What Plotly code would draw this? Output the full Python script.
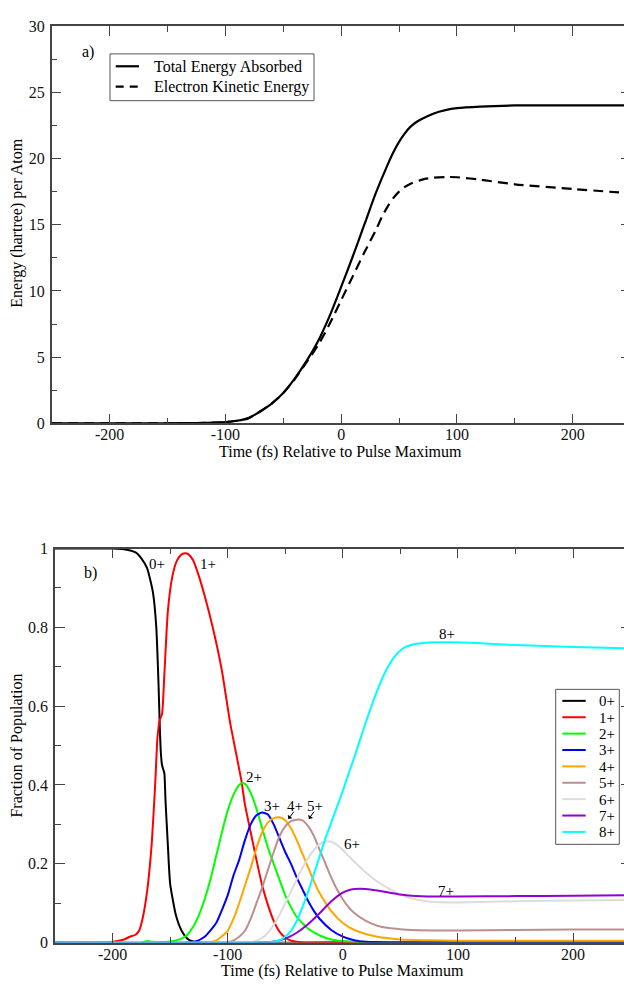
import plotly.graph_objects as go

FONT = "Liberation Serif, Times New Roman, serif"

# ---------------- panel a) data ----------------
t_total = [-250, -200, -150, -125, -100, -90, -80, -70, -60, -50, -40, -30, -20, -10, 0,
           10, 20, 30, 40, 45, 50, 55, 60, 65, 70, 75, 80, 90, 100, 120, 150, 200, 245]
e_total = [0, 0, 0.01, 0.03, 0.1, 0.2, 0.4, 0.9, 1.5, 2.3, 3.4, 4.7, 6.2, 8.1, 10.3,
           12.6, 15.0, 17.4, 19.5, 20.45, 21.25, 21.9, 22.4, 22.75, 23.0, 23.2, 23.4, 23.65,
           23.8, 23.92, 24.0, 24.0, 24.0]

t_kin = [-250, -200, -150, -125, -100, -90, -80, -70, -60, -50, -40, -30, -20, -10, 0,
         10, 20, 30, 35, 40, 45, 50, 55, 60, 70, 80, 91, 100, 120, 150, 200, 245]
e_kin = [0, 0, 0.01, 0.03, 0.1, 0.2, 0.4, 0.9, 1.5, 2.3, 3.35, 4.6, 5.9, 7.5, 9.3,
         11.1, 12.9, 14.6, 15.55, 16.35, 17.0, 17.5, 17.85, 18.1, 18.4, 18.55, 18.6, 18.58,
         18.4, 18.05, 17.7, 17.4]

# ---------------- panel b) data ----------------
t0 = [-250, -200, -190, -180, -175, -170, -165, -162, -160, -159, -158, -157, -156, -155,
      -154, -152, -150, -145, -140, -135, -130, -120, 0, 245]
p0 = [1.0, 1.0, 0.998, 0.99, 0.975, 0.95, 0.89, 0.8, 0.65, 0.55, 0.48, 0.45, 0.44, 0.43,
      0.36, 0.25, 0.15, 0.07, 0.03, 0.01, 0.003, 0.0, 0.0, 0.0]

t1 = [-250, -210, -200, -190, -185, -180, -177, -174, -170, -166, -163, -161, -159, -157,
      -155, -152, -148, -144, -140, -137, -134, -130, -125, -120, -113, -105, -98, -92,
      -88, -85, -80, -75, -70, -65, -60, -55, -50, -45, -40, -30, 245]
p1 = [0, 0, 0.002, 0.008, 0.015, 0.02, 0.03, 0.06, 0.13, 0.25, 0.4, 0.52, 0.565, 0.58,
      0.68, 0.84, 0.93, 0.97, 0.985, 0.988, 0.985, 0.97, 0.93, 0.88, 0.8, 0.69, 0.56, 0.47,
      0.41, 0.35, 0.28, 0.21, 0.145, 0.095, 0.055, 0.028, 0.013, 0.005, 0.002, 0, 0]

t2 = [-250, -175, -170, -165, -150, -140, -135, -130, -125, -120, -115, -110, -105, -100,
      -95, -90, -87, -84, -80, -75, -70, -65, -60, -55, -50, -45, -40, -30, -20, -10, 0,
      20, 50, 245]
p2 = [0, 0, 0.004, 0.002, 0.003, 0.01, 0.02, 0.04, 0.07, 0.11, 0.16, 0.22, 0.28, 0.335,
      0.375, 0.4, 0.405, 0.4, 0.38, 0.34, 0.29, 0.24, 0.2, 0.16, 0.12, 0.09, 0.065, 0.035,
      0.018, 0.008, 0.004, 0.001, 0, 0]

t3 = [-250, -135, -128, -120, -110, -100, -95, -90, -85, -80, -75, -70, -65, -60, -55,
      -50, -45, -40, -35, -30, -25, -20, -10, 0, 10, 20, 40, 60, 245]
p3 = [0, 0, 0.003, 0.015, 0.05, 0.12, 0.17, 0.21, 0.26, 0.3, 0.323, 0.33, 0.325, 0.3,
      0.265, 0.23, 0.2, 0.165, 0.135, 0.105, 0.08, 0.06, 0.032, 0.015, 0.006, 0.002,
      0.0005, 0, 0]

t4 = [-250, -120, -110, -100, -95, -90, -85, -80, -75, -70, -65, -60, -55, -50, -45, -40,
      -35, -30, -25, -20, -10, 0, 10, 20, 30, 40, 50, 75, 100, 150, 200, 245]
p4 = [0, 0, 0.005, 0.03, 0.06, 0.1, 0.145, 0.19, 0.24, 0.28, 0.305, 0.316, 0.318, 0.31,
      0.29, 0.26, 0.225, 0.19, 0.155, 0.125, 0.08, 0.05, 0.032, 0.022, 0.015, 0.011, 0.008,
      0.006, 0.005, 0.005, 0.005, 0.005]

t5 = [-250, -105, -97, -90, -85, -80, -75, -70, -65, -60, -55, -50, -45, -40, -35, -30,
      -25, -20, -15, -10, -5, 0, 5, 10, 20, 30, 40, 50, 60, 80, 100, 150, 200, 245]
p5 = [0, 0, 0.003, 0.015, 0.03, 0.06, 0.1, 0.14, 0.185, 0.23, 0.27, 0.295, 0.308, 0.312,
      0.31, 0.295, 0.27, 0.235, 0.2, 0.165, 0.135, 0.11, 0.09, 0.075, 0.055, 0.043, 0.037,
      0.034, 0.032, 0.031, 0.031, 0.032, 0.033, 0.033]

t6 = [-250, -85, -77, -70, -65, -60, -55, -50, -45, -40, -35, -30, -25, -20, -15, -10, -5,
      0, 5, 10, 20, 30, 40, 50, 60, 70, 80, 100, 120, 150, 200, 245]
p6 = [0, 0, 0.003, 0.012, 0.025, 0.045, 0.07, 0.1, 0.13, 0.16, 0.19, 0.215, 0.235, 0.25,
      0.257, 0.256, 0.248, 0.235, 0.22, 0.205, 0.178, 0.155, 0.137, 0.122, 0.112, 0.106,
      0.103, 0.102, 0.103, 0.105, 0.107, 0.108]

t7 = [-250, -70, -60, -50, -40, -30, -20, -10, 0, 5, 10, 15, 20, 30, 40, 50, 60, 80, 100,
      150, 200, 245]
p7 = [0, 0, 0.003, 0.01, 0.025, 0.047, 0.075, 0.105, 0.127, 0.133, 0.136, 0.137, 0.136,
      0.132, 0.127, 0.122, 0.119, 0.117, 0.117, 0.118, 0.119, 0.12]

t8 = [-250, -70, -60, -55, -50, -45, -40, -35, -30, -25, -20, -15, -10, -5, 0, 5, 10, 15,
      20, 25, 30, 35, 40, 45, 50, 55, 60, 70, 80, 95, 110, 130, 150, 200, 245]
p8 = [0, 0, 0.002, 0.006, 0.015, 0.03, 0.055, 0.09, 0.13, 0.175, 0.22, 0.265, 0.305, 0.345,
      0.385, 0.428, 0.47, 0.515, 0.559, 0.601, 0.64, 0.675, 0.704, 0.726, 0.741, 0.751,
      0.756, 0.76, 0.762, 0.762, 0.761, 0.758, 0.755, 0.75, 0.747]

energy_names = ["Total Energy Absorbed", "Electron Kinetic Energy"]
charge_names = ["0+", "1+", "2+", "3+", "4+", "5+", "6+", "7+", "8+"]
charge_colors = ["#000000", "#ff0000", "#00ff00", "#0000ff", "#ffa500",
                 "#bc8f8f", "#dcdcdc", "#9400d3", "#00ffff"]
charge_t = [t0, t1, t2, t3, t4, t5, t6, t7, t8]
charge_p = [p0, p1, p2, p3, p4, p5, p6, p7, p8]

# curve labels (text, time, fraction)
lab_text = ["0+", "1+", "2+", "3+", "4+", "5+", "6+", "7+", "8+"]
lab_t = [-161.4, -117.1, -77.1, -61.8, -41.5, -24.2, 8.0, 89.4, 90.5]
lab_p = [0.962, 0.962, 0.42, 0.346, 0.346, 0.346, 0.25, 0.131, 0.782]

x_tickvals = [-200, -100, 0, 100, 200]
x_ticktext = ["-200", "-100", "0", "100", "200"]

W, H = 624, 987
def px(x):
    return x / W
def py(y):
    return 1 - y / H

fig = go.Figure()

fig.add_trace(go.Scatter(x=t_total, y=e_total, mode="lines", name=energy_names[0],
                         line=dict(color="black", width=2.2, shape="spline", smoothing=0.8),
                         xaxis="x", yaxis="y", showlegend=False))
fig.add_trace(go.Scatter(x=t_kin, y=e_kin, mode="lines", name=energy_names[1],
                         line=dict(color="black", width=2.2, dash="10px,6px", shape="spline", smoothing=0.8),
                         xaxis="x", yaxis="y", showlegend=False))

for nm, col, tt, pp in zip(charge_names, charge_colors, charge_t, charge_p):
    fig.add_trace(go.Scatter(x=tt, y=pp, mode="lines", name=nm,
                             line=dict(color=col, width=2, shape="spline", smoothing=0.5),
                             xaxis="x2", yaxis="y2", showlegend=False))

# dummy traces for right-hand tick axes
fig.add_trace(go.Scatter(x=[None], y=[None], xaxis="x", yaxis="y3", showlegend=False, hoverinfo="skip"))
fig.add_trace(go.Scatter(x=[None], y=[None], xaxis="x2", yaxis="y4", showlegend=False, hoverinfo="skip"))

AX = "#444444"
tickfont = dict(family=FONT, size=16, color="#111111")

def xax(domain, anchor):
    return dict(domain=domain, anchor=anchor, range=[-250, 244.3],
                tickmode="array", tickvals=x_tickvals, ticktext=x_ticktext,
                ticks="inside", ticklen=10, tickwidth=1, tickcolor=AX,
                minor=dict(dtick=50, tick0=0, ticks="inside", ticklen=6, tickwidth=1, tickcolor=AX),
                showline=True, linecolor=AX, linewidth=1.5, mirror="ticks",
                showgrid=False, zeroline=False, tickfont=tickfont, ticklabelstandoff=-4)

def yax(domain, anchor, rng, dt, mdt):
    return dict(domain=domain, anchor=anchor, range=rng, dtick=dt, tick0=0,
                ticks="inside", ticklen=10, tickwidth=1, tickcolor=AX,
                minor=dict(dtick=mdt, tick0=0, ticks="inside", ticklen=6, tickwidth=1, tickcolor=AX),
                showline=True, linecolor=AX, linewidth=1.5, mirror=False,
                showgrid=False, zeroline=False, tickfont=tickfont, ticklabelstandoff=2)

def rax(over, anchor, rng, dt):
    return dict(overlaying=over, anchor=anchor, side="right", range=rng, dtick=dt, tick0=0,
                ticks="inside", ticklen=3, tickwidth=1, tickcolor=AX, showline=False,
                showticklabels=False, showgrid=False, zeroline=False)

top_dom = [1 - 422.7 / H, 1 - 18.3 / H]
bot_dom = [1 - 951 / H, 1 - 550 / H]

fig.update_layout(
    width=W, height=H, margin=dict(l=0, r=0, t=0, b=0),
    paper_bgcolor="white", plot_bgcolor="white",
    font=dict(family=FONT, size=16, color="black"),
    xaxis=xax([51.7 / W, 1], "y"),
    yaxis=yax(top_dom, "x", [0, 30], 5, 2.5),
    xaxis2=xax([55 / W, 1], "y2"),
    yaxis2=yax(bot_dom, "x2", [0, 1], 0.2, 0.1),
    yaxis3=rax("y", "x", [0, 30], 5),
    yaxis4=rax("y2", "x2", [0, 1], 0.2),
    showlegend=False,
)

annots = []
shapes = []
# axis titles
annots.append(dict(text="Time (fs) Relative to Pulse Maximum", x=px(341), y=py(451.5),
                   xref="paper", yref="paper", showarrow=False, xanchor="center", yanchor="middle",
                   font=dict(family=FONT, size=16)))
annots.append(dict(text="Time (fs) Relative to Pulse Maximum", x=px(342.5), y=py(979.5),
                   xref="paper", yref="paper", showarrow=False, xanchor="center", yanchor="middle",
                   font=dict(family=FONT, size=16)))
annots.append(dict(text="Energy (hartree) per Atom", x=px(17), y=py(218.5), textangle=-90,
                   xref="paper", yref="paper", showarrow=False, xanchor="center", yanchor="middle",
                   font=dict(family=FONT, size=16)))
annots.append(dict(text="Fraction of Population", x=px(17), y=py(750.5), textangle=-90,
                   xref="paper", yref="paper", showarrow=False, xanchor="center", yanchor="middle",
                   font=dict(family=FONT, size=16)))
# panel labels
annots.append(dict(text="a)", x=-218.6, y=28.0, xref="x", yref="y", showarrow=False,
                   font=dict(family=FONT, size=16)))
annots.append(dict(text="b)", x=-219.0, y=0.938, xref="x2", yref="y2", showarrow=False,
                   font=dict(family=FONT, size=16)))
for tx, xx, yy in zip(lab_text, lab_t, lab_p):
    annots.append(dict(text=tx, x=xx, y=yy, xref="x2", yref="y2", showarrow=False,
                       font=dict(family=FONT, size=15)))
# arrows for 4+ and 5+
for (hx, hy, tx_, ty_) in [(-47.3, 0.314, -41.5, 0.336), (-29.4, 0.314, -24.2, 0.336)]:
    annots.append(dict(text="", x=hx, y=hy, ax=tx_, ay=ty_, xref="x2", yref="y2",
                       axref="x2", ayref="y2", showarrow=True, arrowhead=1, arrowsize=1,
                       arrowwidth=1, arrowcolor="black"))

# ---- legend a) (drawn as a boxed key) ----
BORDER = "#555555"
shapes.append(dict(type="rect", xref="paper", yref="paper", x0=px(110), x1=px(314),
                   y0=py(94.3), y1=py(46.7), line=dict(color=BORDER, width=1),
                   fillcolor="white", layer="above"))
leg_a_y = [59.3, 80.0]
leg_a_dash = ["solid", "8px,6px"]
for nm, yy, ds in zip(energy_names, leg_a_y, leg_a_dash):
    shapes.append(dict(type="line", xref="paper", yref="paper", x0=px(115.7), x1=px(139),
                       y0=py(yy), y1=py(yy), line=dict(color="black", width=2.2, dash=ds),
                       layer="above"))
    annots.append(dict(text=nm, x=px(151.7), y=py(yy + 0.5), xref="paper", yref="paper",
                       showarrow=False, xanchor="left", yanchor="middle",
                       font=dict(family=FONT, size=16, color="black")))

# ---- legend b) ----
shapes.append(dict(type="rect", xref="paper", yref="paper", x0=px(555.7), x1=px(619.3),
                   y0=py(851), y1=py(693.3), line=dict(color=BORDER, width=1),
                   fillcolor="white", layer="above"))
for i, (nm, col) in enumerate(zip(charge_names, charge_colors)):
    yy = 705 + i * 16.67
    shapes.append(dict(type="line", xref="paper", yref="paper", x0=px(562.3), x1=px(585.7),
                       y0=py(yy), y1=py(yy), line=dict(color=col, width=2), layer="above"))
    annots.append(dict(text=nm, x=px(596.7), y=py(yy + 0.5), xref="paper", yref="paper",
                       showarrow=False, xanchor="left", yanchor="middle",
                       font=dict(family=FONT, size=15, color="black")))

fig.update_layout(annotations=annots, shapes=shapes)

fig.write_html("out.html")
